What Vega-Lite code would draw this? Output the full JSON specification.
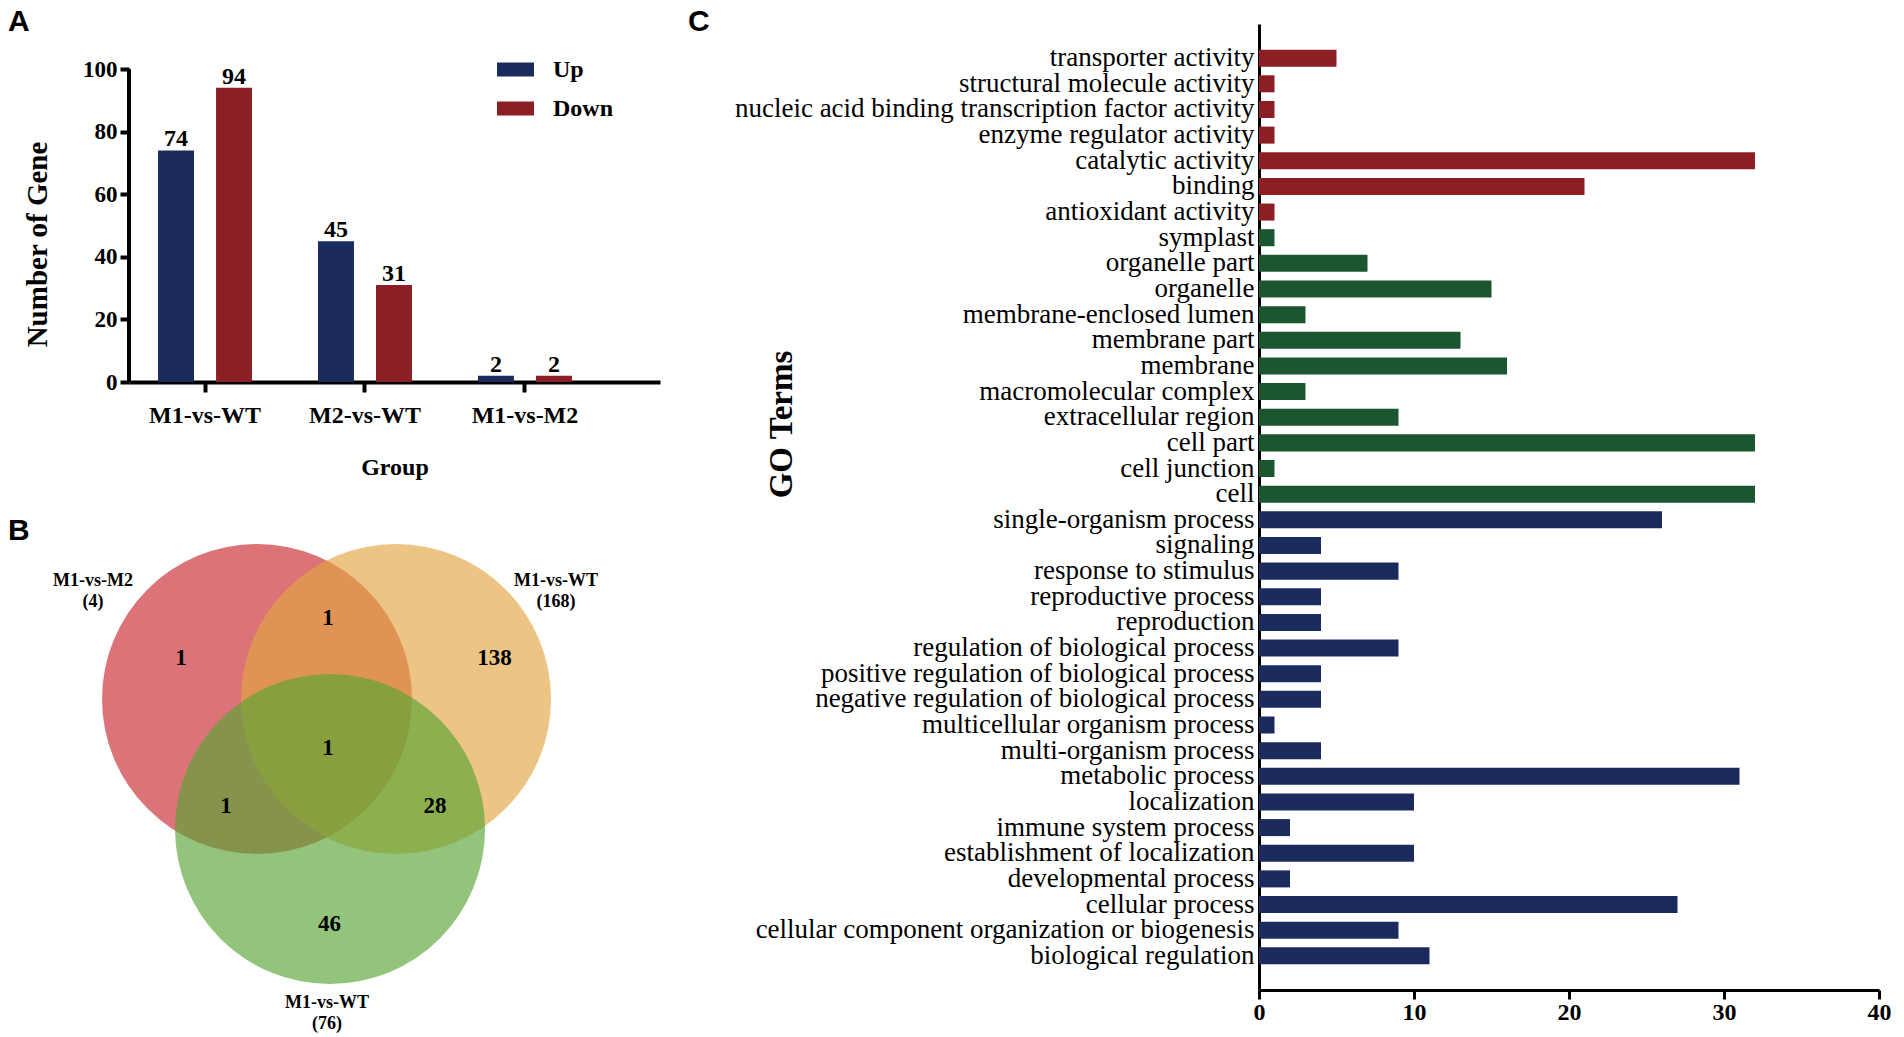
{
  "$schema": "https://vega.github.io/schema/vega-lite/v6.json",
  "background": "white",
  "padding": {"left": 8, "top": 7, "right": 0, "bottom": 0},
  "config": {
    "view": {"stroke": null},
    "font": "Liberation Serif",
    "axis": {"domainColor": "black", "tickColor": "black", "labelColor": "black", "titleColor": "black", "grid": false}
  },
  "spacing": 28,
  "resolve": {"scale": {"color": "independent"}},
  "hconcat": [
    {
      "spacing": 36,
      "resolve": {"scale": {"color": "independent"}},
      "vconcat": [
        {
          "width": 531,
          "height": 358,
          "title": {"text": "A", "anchor": "start", "frame": "group", "dx": -121, "offset": -37, "baseline": "alphabetic", "font": "Liberation Sans", "fontSize": 30, "fontWeight": "bold", "color": "black"},
          "data": {"values": [
            {"group": "M1-vs-WT", "type": "Up", "count": 74},
            {"group": "M1-vs-WT", "type": "Down", "count": 94},
            {"group": "M2-vs-WT", "type": "Up", "count": 45},
            {"group": "M2-vs-WT", "type": "Down", "count": 31},
            {"group": "M1-vs-M2", "type": "Up", "count": 2},
            {"group": "M1-vs-M2", "type": "Down", "count": 2}
          ]},
          "resolve": {"scale": {"x": "independent"}},
          "layer": [
            {
              "mark": {"type": "bar"},
              "encoding": {
                "x": {"field": "group", "type": "nominal", "sort": ["M1-vs-WT", "M2-vs-WT", "M1-vs-M2"],
                  "scale": {"paddingInner": 0.4125, "paddingOuter": 0.366, "align": 0.248},
                  "axis": {"title": "Group", "labelAngle": 0, "labelFont": "Liberation Serif", "labelFontSize": 24, "labelFontWeight": "bold", "labelPadding": 11, "tickSize": 10, "tickWidth": 4, "domainWidth": 4, "titleFont": "Liberation Serif", "titleFontSize": 24, "titleFontWeight": "bold", "titlePadding": 28}},
                "xOffset": {"field": "type", "type": "nominal", "sort": ["Up", "Down"], "scale": {"paddingInner": 0.38, "paddingOuter": 0}},
                "y": {"field": "count", "type": "quantitative", "scale": {"domain": [0, 114.38], "nice": false},
                  "axis": {"title": "Number of Gene", "values": [0, 20, 40, 60, 80, 100], "domain": false, "labelFont": "Liberation Serif", "labelFontSize": 23, "labelFontWeight": "bold", "labelPadding": 3, "tickSize": 9, "tickWidth": 4, "titleFont": "Liberation Serif", "titleFontSize": 29, "titleFontWeight": "bold", "titleX": -92, "titleY": 220, "titleBaseline": "middle", "titleAlign": "center", "titleAngle": 270}},
                "color": {"field": "type", "type": "nominal", "scale": {"domain": ["Up", "Down"], "range": ["#1C2B5E", "#8B1F24"]},
                  "legend": {"title": null, "orient": "none", "legendX": 368, "legendY": 27, "symbolType": "M-1,-0.38H1V0.38H-1Z", "symbolSize": 1369, "symbolStrokeWidth": 0, "symbolOpacity": 1, "labelFont": "Liberation Serif", "labelFontSize": 24, "labelFontWeight": "bold", "labelColor": "black", "labelOffset": 19, "rowPadding": 8, "padding": 0}}
              }
            },
            {
              "mark": {"type": "text", "baseline": "alphabetic", "dy": -4, "font": "Liberation Serif", "fontSize": 24, "fontWeight": "bold", "color": "black"},
              "encoding": {
                "x": {"field": "group", "type": "nominal", "sort": ["M1-vs-WT", "M2-vs-WT", "M1-vs-M2"],
                  "scale": {"paddingInner": 0.4125, "paddingOuter": 0.366, "align": 0.248}, "axis": null},
                "xOffset": {"field": "type", "type": "nominal", "sort": ["Up", "Down"], "scale": {"paddingInner": 0.38, "paddingOuter": 0}},
                "y": {"field": "count", "type": "quantitative"},
                "text": {"field": "count", "type": "quantitative"}
              }
            },
            {
              "data": {"values": [{"from": 0, "to": 100}]},
              "mark": {"type": "rule", "color": "black", "strokeWidth": 4},
              "encoding": {
                "x": {"datum": 0, "type": "quantitative", "scale": {"domain": [0, 1]}, "axis": null},
                "y": {"field": "from", "type": "quantitative"},
                "y2": {"field": "to"}
              }
            }
          ]
        },
        {
          "width": 531,
          "height": 490,
          "title": {"text": "B", "anchor": "start", "frame": "group", "dx": -121, "offset": -26, "baseline": "alphabetic", "font": "Liberation Sans", "fontSize": 30, "fontWeight": "bold", "color": "black"},
          "layer": [
            {
              "data": {"values": [
                {"set": "M1-vs-M2", "cx": -0.458, "cy": 0.271},
                {"set": "M1-vs-WT up", "cx": 0.439, "cy": 0.271},
                {"set": "M1-vs-WT down", "cx": 0.013, "cy": -0.568}
              ]},
              "mark": {"type": "point", "shape": "circle", "filled": true, "opacity": 0.65, "size": 96100, "strokeWidth": 0},
              "encoding": {
                "x": {"field": "cx", "type": "quantitative", "scale": {"domain": [-1.284, 2.142], "nice": false, "zero": false}, "axis": null},
                "y": {"field": "cy", "type": "quantitative", "scale": {"domain": [-1.903, 1.258], "nice": false, "zero": false}, "axis": null},
                "color": {"field": "set", "type": "nominal", "scale": {"domain": ["M1-vs-M2", "M1-vs-WT up", "M1-vs-WT down"], "range": ["#C8282F", "#E2A643", "#59A434"]}, "legend": null}
              }
            },
            {
              "data": {"values": [
                {"n": "1", "x": -0.948, "y": 0.535},
                {"n": "1", "x": 0.0, "y": 0.794},
                {"n": "138", "x": 1.075, "y": 0.535},
                {"n": "1", "x": 0.0, "y": -0.045},
                {"n": "1", "x": -0.658, "y": -0.419},
                {"n": "28", "x": 0.69, "y": -0.419},
                {"n": "46", "x": 0.01, "y": -1.18}
              ]},
              "mark": {"type": "text", "baseline": "middle", "font": "Liberation Serif", "fontSize": 23, "fontWeight": "bold", "color": "black"},
              "encoding": {
                "x": {"field": "x", "type": "quantitative", "scale": {"domain": [-1.284, 2.142], "nice": false, "zero": false}, "axis": null},
                "y": {"field": "y", "type": "quantitative", "scale": {"domain": [-1.903, 1.258], "nice": false, "zero": false}, "axis": null},
                "text": {"field": "n"}
              }
            },
            {
              "data": {"values": [
                {"label": "M1-vs-M2\n(4)", "x": -1.516, "y": 1.032},
                {"label": "M1-vs-WT\n(168)", "x": 1.471, "y": 1.032},
                {"label": "M1-vs-WT\n(76)", "x": -0.006, "y": -1.69}
              ]},
              "mark": {"type": "text", "baseline": "middle", "lineBreak": "\n", "lineHeight": 21, "font": "Liberation Serif", "fontSize": 18, "fontWeight": "bold", "color": "black"},
              "encoding": {
                "x": {"field": "x", "type": "quantitative", "scale": {"domain": [-1.284, 2.142], "nice": false, "zero": false}, "axis": null},
                "y": {"field": "y", "type": "quantitative", "scale": {"domain": [-1.903, 1.258], "nice": false, "zero": false}, "axis": null},
                "text": {"field": "label"}
              }
            }
          ]
        }
      ]
    },
    {
      "width": 620,
      "height": 966,
      "title": {"text": "C", "anchor": "start", "frame": "group", "dx": -571, "offset": -37, "baseline": "alphabetic", "font": "Liberation Sans", "fontSize": 30, "fontWeight": "bold", "color": "black"},
      "data": {"values": [
        {"term": "transporter activity", "category": "Molecular function", "count": 5},
        {"term": "structural molecule activity", "category": "Molecular function", "count": 1},
        {"term": "nucleic acid binding transcription factor activity", "category": "Molecular function", "count": 1},
        {"term": "enzyme regulator activity", "category": "Molecular function", "count": 1},
        {"term": "catalytic activity", "category": "Molecular function", "count": 32},
        {"term": "binding", "category": "Molecular function", "count": 21},
        {"term": "antioxidant activity", "category": "Molecular function", "count": 1},
        {"term": "symplast", "category": "Cellular component", "count": 1},
        {"term": "organelle part", "category": "Cellular component", "count": 7},
        {"term": "organelle", "category": "Cellular component", "count": 15},
        {"term": "membrane-enclosed lumen", "category": "Cellular component", "count": 3},
        {"term": "membrane part", "category": "Cellular component", "count": 13},
        {"term": "membrane", "category": "Cellular component", "count": 16},
        {"term": "macromolecular complex", "category": "Cellular component", "count": 3},
        {"term": "extracellular region", "category": "Cellular component", "count": 9},
        {"term": "cell part", "category": "Cellular component", "count": 32},
        {"term": "cell junction", "category": "Cellular component", "count": 1},
        {"term": "cell", "category": "Cellular component", "count": 32},
        {"term": "single-organism process", "category": "Biological process", "count": 26},
        {"term": "signaling", "category": "Biological process", "count": 4},
        {"term": "response to stimulus", "category": "Biological process", "count": 9},
        {"term": "reproductive process", "category": "Biological process", "count": 4},
        {"term": "reproduction", "category": "Biological process", "count": 4},
        {"term": "regulation of biological process", "category": "Biological process", "count": 9},
        {"term": "positive regulation of biological process", "category": "Biological process", "count": 4},
        {"term": "negative regulation of biological process", "category": "Biological process", "count": 4},
        {"term": "multicellular organism process", "category": "Biological process", "count": 1},
        {"term": "multi-organism process", "category": "Biological process", "count": 4},
        {"term": "metabolic process", "category": "Biological process", "count": 31},
        {"term": "localization", "category": "Biological process", "count": 10},
        {"term": "immune system process", "category": "Biological process", "count": 2},
        {"term": "establishment of localization", "category": "Biological process", "count": 10},
        {"term": "developmental process", "category": "Biological process", "count": 2},
        {"term": "cellular process", "category": "Biological process", "count": 27},
        {"term": "cellular component organization or biogenesis", "category": "Biological process", "count": 9},
        {"term": "biological regulation", "category": "Biological process", "count": 11}
      ]},
      "mark": {"type": "bar"},
      "encoding": {
        "y": {"field": "term", "type": "nominal", "sort": null,
          "scale": {"paddingInner": 0.336, "paddingOuter": 1},
          "axis": {"title": "GO Terms", "ticks": false, "labelFont": "Liberation Serif", "labelFontSize": 27, "labelPadding": 5, "labelLimit": 0, "domainWidth": 3,
            "titleFont": "Liberation Serif", "titleFontSize": 33, "titleFontWeight": "bold", "titleX": -478, "titleY": 400, "titleBaseline": "middle", "titleAlign": "center", "titleAngle": 270}},
        "x": {"field": "count", "type": "quantitative", "scale": {"domain": [0, 40], "nice": false},
          "axis": {"title": null, "values": [0, 10, 20, 30, 40], "labelFont": "Liberation Serif", "labelFontSize": 24, "labelFontWeight": "bold", "labelPadding": 1, "tickSize": 9, "tickWidth": 3, "domainWidth": 3, "labelFlush": false}},
        "color": {"field": "category", "type": "nominal", "scale": {"domain": ["Molecular function", "Cellular component", "Biological process"], "range": ["#8B1F24", "#1B5630", "#1C2B5E"]}, "legend": null}
      }
    }
  ]
}
